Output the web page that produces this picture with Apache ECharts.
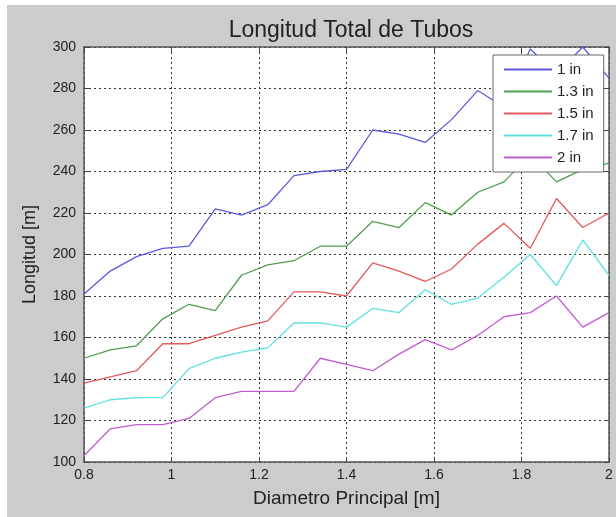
<!DOCTYPE html>
<html>
<head>
<meta charset="utf-8">
<script src="https://cdn.jsdelivr.net/npm/echarts@6/dist/echarts.min.js"></script>
<style>
  html, body { margin: 0; padding: 0; background: #cccccc; }
  #chart { width: 616px; height: 517px; }
</style>
</head>
<body>
<div id="chart"></div>
<script>
// Main pipe diameter [m]
const diametro = [0.8, 0.86, 0.92, 0.98, 1.04, 1.1, 1.16, 1.22, 1.28, 1.34, 1.4,
                  1.46, 1.52, 1.58, 1.64, 1.7, 1.76, 1.82, 1.88, 1.94, 2.0];

// Total tube length [m] for each tube size
const tubo1in  = [181, 192, 199, 203, 204, 222, 219, 224, 238, 240, 241,
                  260, 258, 254, 265, 279, 271, 299, 287, 300, 285];
const tubo13in = [150, 154, 156, 169, 176, 173, 190, 195, 197, 204, 204,
                  216, 213, 225, 219, 230, 235, 248, 235, 241, 244];
const tubo15in = [138, 141, 144, 157, 157, 161, 165, 168, 182, 182, 180,
                  196, 192, 187, 193, 205, 215, 203, 227, 213, 220];
const tubo17in = [126, 130, 131, 131, 145, 150, 153, 155, 167, 167, 165,
                  174, 172, 183, 176, 179, 189, 200, 185, 207, 190];
const tubo2in  = [103, 116, 118, 118, 121, 131, 134, 134, 134, 150, 147,
                  144, 152, 159, 154, 161, 170, 172, 180, 165, 172];

const seriesNames = ['1 in', '1.3 in', '1.5 in', '1.7 in', '2 in'];
const seriesData = [tubo1in, tubo13in, tubo15in, tubo17in, tubo2in];
const seriesColors = ['#5a5ae0', '#4f9f4f', '#e35a5a', '#5ee0e0', '#c05ccf'];

const FONT = 'Liberation Sans, Arial, sans-serif';

const chart = echarts.init(document.getElementById('chart'));

const gridLine = { show: true, lineStyle: { color: '#333333', type: [2, 3], width: 1 } };
const boxLine = { show: true, lineStyle: { color: '#555555', width: 1.5 } };
const tickIn = { show: true, inside: true, length: 5, lineStyle: { color: '#444444' } };

chart.setOption({
  backgroundColor: '#cccccc',
  animation: false,
  title: {
    text: 'Longitud Total de Tubos',
    left: 346, top: 14, textAlign: 'center',
    textStyle: { fontFamily: FONT, fontSize: 23, fontWeight: 'normal', color: '#222222' }
  },
  graphic: [
    { type: 'rect', shape: { x: 0, y: 0, width: 616, height: 5 }, style: { fill: '#ffffff' }, silent: true },
    { type: 'rect', shape: { x: 0, y: 0, width: 7, height: 517 }, style: { fill: '#ffffff' }, silent: true }
  ],
  grid: { left: 84, right: 7, top: 47, bottom: 55, backgroundColor: '#ffffff', show: true, borderWidth: 0 },
  legend: {
    orient: 'vertical',
    left: 493, top: 55,
    padding: [7, 10, 7, 10],
    itemWidth: 48, itemHeight: 14, itemGap: 7,
    backgroundColor: '#ffffff',
    borderColor: '#666666', borderWidth: 1,
    itemStyle: { opacity: 0 },
    data: seriesNames,
    textStyle: { fontFamily: FONT, fontSize: 15, color: '#222222' }
  },
  xAxis: [
    {
      type: 'value', min: 0.8, max: 2, interval: 0.2,
      name: 'Diametro Principal [m]', nameLocation: 'middle', nameGap: 27,
      nameTextStyle: { fontFamily: FONT, fontSize: 19, color: '#222222' },
      axisLine: boxLine, axisTick: tickIn,
      axisLabel: { fontFamily: FONT, fontSize: 14, color: '#222222', margin: 6 },
      splitLine: gridLine
    },
    {
      type: 'value', min: 0.8, max: 2, interval: 0.2, position: 'top',
      axisLine: boxLine, axisTick: tickIn, axisLabel: { show: false }, splitLine: { show: false }
    }
  ],
  yAxis: [
    {
      type: 'value', min: 100, max: 300, interval: 20,
      name: 'Longitud [m]', nameLocation: 'middle', nameGap: 45, nameRotate: 90,
      nameTextStyle: { fontFamily: FONT, fontSize: 18, color: '#222222' },
      axisLine: boxLine, axisTick: tickIn,
      axisLabel: { fontFamily: FONT, fontSize: 14, color: '#222222', margin: 8 },
      splitLine: gridLine
    },
    {
      type: 'value', min: 100, max: 300, interval: 20, position: 'right',
      axisLine: boxLine, axisTick: tickIn, axisLabel: { show: false }, splitLine: { show: false }
    }
  ],
  series: seriesNames.map((name, i) => ({
    name: name,
    type: 'line',
    xAxisIndex: 0, yAxisIndex: 0,
    symbol: 'none',
    data: diametro.map((d, k) => [d, seriesData[i][k]]),
    lineStyle: { color: seriesColors[i], width: 1.3 },
    itemStyle: { color: seriesColors[i] },
    z: 3
  }))
});
</script>
</body>
</html>
